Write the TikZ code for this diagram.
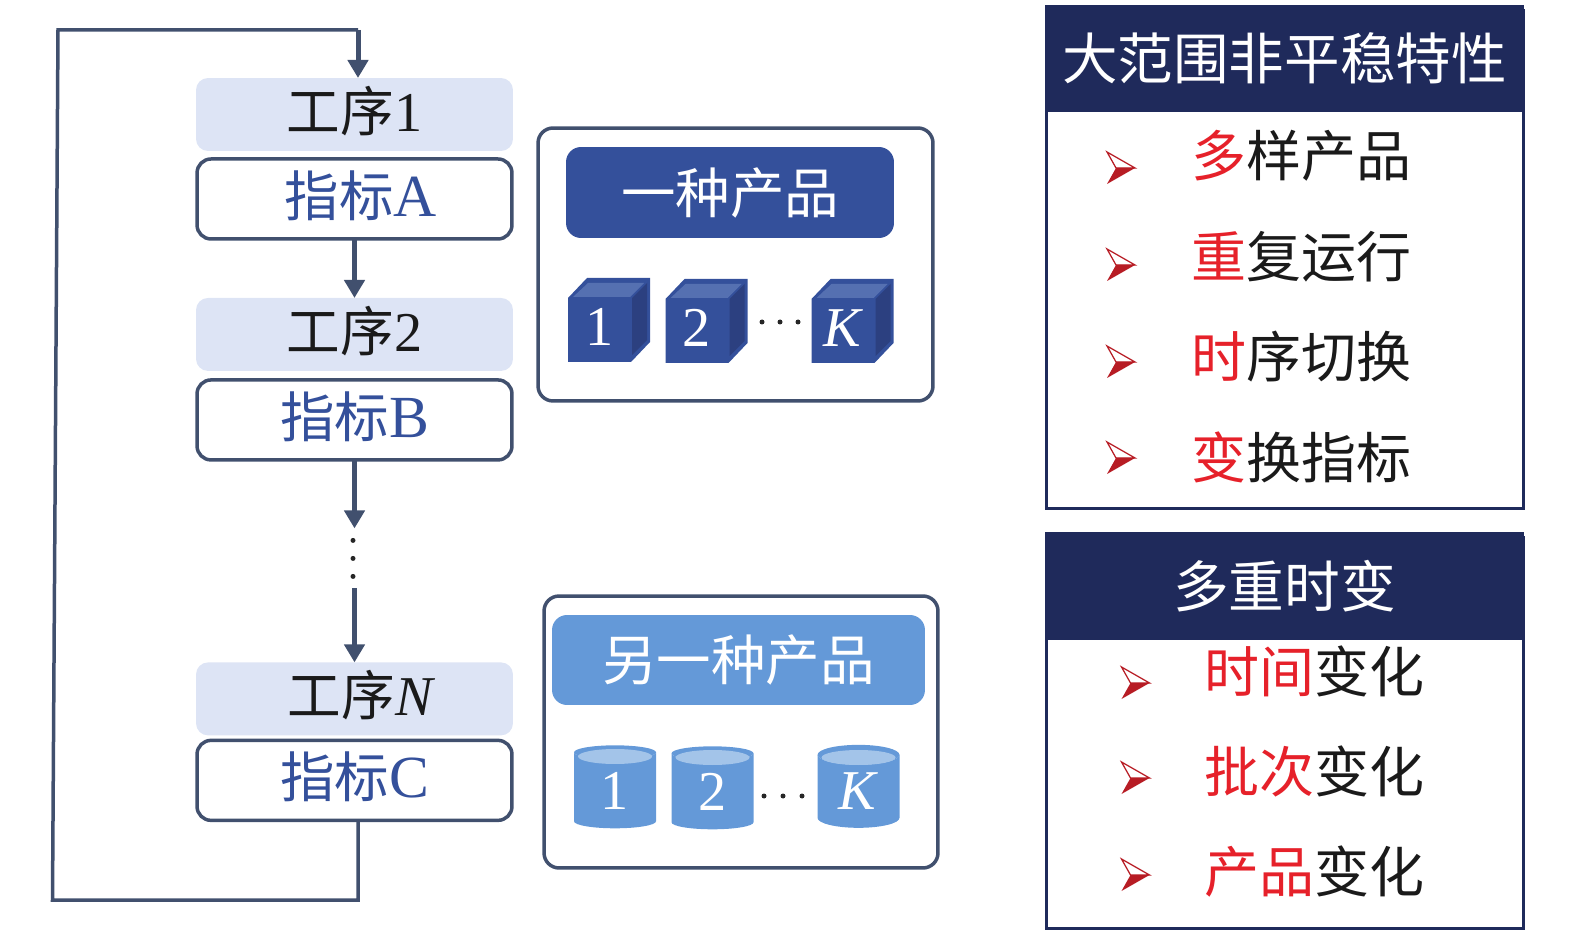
\documentclass[tikz,border=0pt]{standalone}
\usepackage{fontspec}
\setmainfont{Liberation Serif}
\newfontfamily\cjk{Noto Sans CJK SC}
\usetikzlibrary{shapes.geometric, arrows.meta, positioning}

\definecolor{linegray}{HTML}{41506E}
\definecolor{gxfill}{HTML}{DDE4F5}
\definecolor{darkblue}{HTML}{34509B}
\definecolor{topblue}{HTML}{5570B1}
\definecolor{sideblue}{HTML}{2C4080}
\definecolor{midblue}{HTML}{6499D8}
\definecolor{paleblue}{HTML}{A3C4E9}
\definecolor{navy}{HTML}{1F2A5B}
\definecolor{itemred}{HTML}{E6212A}
\definecolor{markred}{HTML}{B71C24}
\definecolor{itemblack}{HTML}{1A1A1A}

\newcommand{\zw}[2][31]{{\cjk\fontsize{#1}{#1}\selectfont #2}}

\begin{document}
\begin{tikzpicture}[
      x=0.02cm, y=-0.02cm,
      node distance=0.2cm,
      every node/.style={outer sep=0pt},
      gxbox/.style={rectangle, fill=gxfill, rounded corners=0.24cm, minimum width=6.34cm, minimum height=1.46cm, inner sep=0pt, text=itemblack, text height=25pt, text depth=5.6pt, font=\fontsize{32}{32}\selectfont},
      zbbox/.style={rectangle, draw=linegray, line width=0.07cm, fill=white, rounded corners=0.28cm, minimum width=6.3cm, minimum height=1.6cm, inner sep=0pt, text=darkblue, text height=25pt, text depth=5.4pt, font=\fontsize{34}{34}\selectfont},
      framebox/.style={rectangle, draw=linegray, line width=0.07cm, rounded corners=0.3cm},
      titlebox/.style={rectangle, rounded corners=0.3cm, text=white, inner sep=0pt},
      cubeface/.style={rectangle, minimum width=1.26cm, minimum height=1.28cm, inner sep=0pt, text=white, text height=22pt, text depth=4pt, font=\fontsize{32}{32}\selectfont},
      cylbody/.style={cylinder, shape border rotate=90, aspect=0.5, cylinder uses custom fill, cylinder body fill=midblue, cylinder end fill=midblue, minimum width=1.64cm, minimum height=1.66cm, inner sep=0pt, text=white, font=\fontsize{32}{32}\selectfont},
      cyltop/.style={ellipse, fill=paleblue, minimum width=1.48cm, minimum height=0.3cm, inner sep=0pt},
      headbox/.style={rectangle, fill=navy, minimum width=9.58cm, inner sep=0pt, text=white},
      panel/.style={rectangle, draw=navy, line width=0.06cm, minimum width=9.56cm},
      item/.style={inner sep=0pt, text=itemblack},
      flow/.style={draw=linegray, line width=0.1cm, -{Triangle[length=0.36cm,width=0.4cm]}},
      loopline/.style={draw=linegray, line width=0.07cm},
      gapdots/.style={inner sep=0pt, minimum size=0pt},
      onedot/.style={circle, fill=black!85, inner sep=0pt, minimum size=0.1cm},
      markarrow/.pic={
        \fill[markred] (-14,16) -- (14,0) -- (-5,0) -- cycle;
        \draw[markred, line width=0.025cm, line join=miter] (-14,-16) -- (14,0) -- (-5,0) -- cycle;
      }
    ]
    \useasboundingbox (0,0) rectangle (1575,945);

    % process column
    \node [gxbox] (gx1) at (354.5,114.5) {\zw[30.5]{工序}1};
    \node [zbbox, below=0.16cm of gx1] (zbA) {\hspace{7pt}\zw{指标}A};
    \node [gxbox, below=1.18cm of zbA] (gx2) {\zw[30.5]{工序}2};
    \node [zbbox, below=0.18cm of gx2] (zbB) {\zw{指标}B};
    \node [gapdots, below=1.37cm of zbB, minimum height=1.2cm] (gap) {};
    \node [gxbox, below=1.48cm of gap] (gxN) {\hspace{8pt}\zw[30.5]{工序}\textit{N}};
    \node [zbbox, below=0.1cm of gxN] (zbC) {\zw{指标}C};

    \foreach \d in {-18,0,18} {
      \node [onedot, xshift=-0.03cm, yshift=\d*0.02cm] (vdot\d) at (gap) {};
    }

    \draw [flow] (zbA) -- (gx2);
    \draw [flow] (zbB) -- (gap);
    \draw [flow] (gap) -- (gxN);

    % feedback loop
    \coordinate (loopa) at (358,819);
    \coordinate (loopb) at (358,900);
    \coordinate (loopc) at (52.5,900);
    \coordinate (loopd) at (58,30);
    \coordinate (loope) at (358,30);
    \coordinate (loopf) at (358,78);
    \draw [loopline] (loopa) -- (loopb) -- (loopc) -- (loopd) -- (loope);
    \draw [flow] (loope) -- (loopf);

    % first product
    \node [framebox, minimum width=7.9cm, minimum height=5.46cm] (cp1) at (735.5,264.5) {};
    \node [titlebox, fill=darkblue, minimum width=6.56cm, minimum height=1.82cm] (tt1) at (730,192.5) {\zw{一种产品}};
    \foreach \n/\x/\y/\t in {1/599.5/330/1, 2/697/331/2, K/843/331/\textit{K}} {
      \fill[darkblue] (\x-31.5,\y-32) -- ++(19,-20) -- ++(63,0) -- ++(0,64) -- ++(-19,20) -- ++(-63,0) -- cycle;
      \fill[topblue] (\x-26.5,\y-33) -- ++(15,-14) -- ++(56,0) -- ++(-14,14) -- cycle;
      \fill[sideblue] (\x+32.5,\y-32) -- ++(15,-15) -- ++(0,57) -- ++(-15,15) -- cycle;
      \node [cubeface] (cube\n) at (\x,\y) {\t};
    }
    \foreach \x in {762,780,798} {
      \node [onedot] (adot\x) at (\x,322) {};
    }

    % second product
    \node [framebox, minimum width=7.88cm, minimum height=5.44cm] (cp2) at (741,732) {};
    \node [titlebox, fill=midblue, minimum width=7.46cm, minimum height=1.8cm] (tt2) at (738.5,660) {\zw{另一种产品}};
    \foreach \n/\x/\y/\t in {1/615/790.5/1, 2/712.5/791.5/2, K/858.5/791.5/\textit{K}} {
      \node [cylbody] (cyl\n) at (\x,\y) {\t};
      \node [cyltop] (cap\n) at (\x,\y-34) {};
    }
    \foreach \x in {764,783,802} {
      \node [onedot] (bdot\x) at (\x,796) {};
    }

    % first list
    \node [panel, minimum height=9.98cm] (pz1) at (1285,259.5) {};
    \node [headbox, minimum height=2.14cm] (hd1) at (1284.5,58.5) {\zw[31.6]{大范围非平稳特性}};
    \foreach \i/\y/\my/\a/\b in {1/156/168/多/样产品, 2/257/265/重/复运行, 3/357/362/时/序切换, 4/457/458/变/换指标} {
      \node [item] (aa\i) at (1301,\y) {\zw[31.3]{\textcolor{itemred}{\a}\b}};
      \pic at (1121,\my) {markarrow};
    }

    % second list
    \node [panel, minimum height=7.84cm] (pz2) at (1285,733) {};
    \node [headbox, minimum height=2.16cm] (hd2) at (1284.5,586) {\zw[31.7]{多重时变}};
    \foreach \i/\y/\my/\a/\b in {1/671/683/时间/变化, 2/771/778/批次/变化, 3/872/875/产品/变化} {
      \node [item] (bb\i) at (1314,\y) {\zw[31.3]{\textcolor{itemred}{\a}\b}};
      \pic at (1135.5,\my) {markarrow};
    }
  \end{tikzpicture}
\end{document}
